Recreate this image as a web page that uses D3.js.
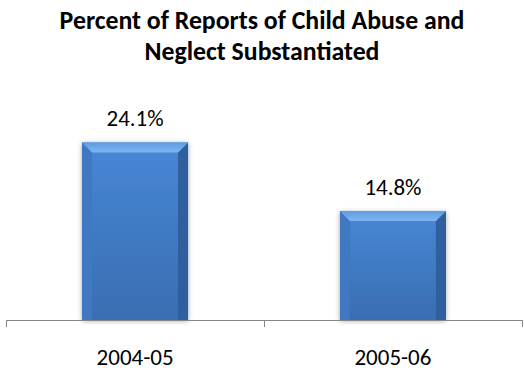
<!DOCTYPE html>
<html>
<head>
<meta charset="utf-8">
<script src="https://cdn.jsdelivr.net/npm/d3@7"></script>
<style>
  html, body { margin: 0; padding: 0; background: #fff; }
  svg { display: block; font-family: Carlito, Calibri, Lato, sans-serif; }
</style>
</head>
<body>
<div id="chart"></div>
<script>
// data
var categories = ["2004-05", "2005-06"];
var values = [24.1, 14.8];
var valueLabels = ["24.1%", "14.8%"];
var titleLines = ["Percent of Reports of Child Abuse and", "Neglect Substantiated"];

var W = 524, H = 371;
var axisY = 320;

var svg = d3.select("#chart").append("svg")
    .attr("width", W)
    .attr("height", H);

// pick a font size so a text selection's first item is about `target` px wide
function fitSize(sel, target) {
    sel.style("font-size", "20px");
    var len = sel.node().getComputedTextLength();
    var size = len > 0 ? 20 * target / len : 20;
    sel.style("font-size", size.toFixed(2) + "px");
}

var defs = svg.append("defs");

// body gradient (vertical)
var body = defs.append("linearGradient").attr("id", "barBody")
    .attr("x1", 0).attr("y1", 0).attr("x2", 0).attr("y2", 1);
body.append("stop").attr("offset", "0%").attr("stop-color", "#4787d6");
body.append("stop").attr("offset", "100%").attr("stop-color", "#3a6db2");

var topBevel = defs.append("linearGradient").attr("id", "barTop")
    .attr("x1", 0).attr("y1", 0).attr("x2", 0).attr("y2", 1);
topBevel.append("stop").attr("offset", "0%").attr("stop-color", "#5e9be3");
topBevel.append("stop").attr("offset", "100%").attr("stop-color", "#7fb6ee");

var shadow = defs.append("filter").attr("id", "shadow")
    .attr("x", "-20%").attr("y", "-20%").attr("width", "140%").attr("height", "140%");
shadow.append("feGaussianBlur").attr("in", "SourceAlpha").attr("stdDeviation", 2.5);
shadow.append("feOffset").attr("dx", 0).attr("dy", 1).attr("result", "b");
shadow.append("feComponentTransfer").append("feFuncA").attr("type", "linear").attr("slope", 0.35);
var merge = shadow.append("feMerge");
merge.append("feMergeNode");
merge.append("feMergeNode").attr("in", "SourceGraphic");

var x = d3.scaleBand()
    .domain(categories)
    .range([6, 522])
    .paddingInner(0.589)
    .paddingOuter(0.295);

var y = d3.scaleLinear()
    .domain([0, 30])
    .range([axisY, 99]);

// title
var title = svg.append("g").selectAll("text")
    .data(titleLines)
    .enter().append("text")
    .attr("x", 262)
    .attr("y", function (d, i) { return 29 + i * 31; })
    .attr("text-anchor", "middle")
    .style("font-weight", "bold")
    .style("fill", "#000")
    .text(function (d) { return d; });
fitSize(title, 405);

// bars with a bevel look
var bevel = 10;
var bars = svg.append("g").selectAll("g.bar")
    .data(values)
    .enter().append("g")
    .attr("class", "bar")
    .attr("filter", "url(#shadow)");

bars.append("rect")
    .attr("x", function (d, i) { return x(categories[i]); })
    .attr("y", function (d) { return y(d); })
    .attr("width", x.bandwidth())
    .attr("height", function (d) { return axisY - y(d); })
    .attr("fill", "url(#barBody)");

// left edge
bars.append("path")
    .attr("d", function (d, i) {
        var x0 = x(categories[i]), y0 = y(d);
        return "M" + x0 + "," + y0 + "L" + (x0 + bevel) + "," + (y0 + bevel) +
            "L" + (x0 + bevel) + "," + axisY + "L" + x0 + "," + axisY + "Z";
    })
    .attr("fill", "#3f78c2");

// right edge
bars.append("path")
    .attr("d", function (d, i) {
        var x1 = x(categories[i]) + x.bandwidth(), y0 = y(d);
        return "M" + x1 + "," + y0 + "L" + (x1 - bevel) + "," + (y0 + bevel) +
            "L" + (x1 - bevel) + "," + axisY + "L" + x1 + "," + axisY + "Z";
    })
    .attr("fill", "#2f5f9e");

// top bevel
bars.append("path")
    .attr("d", function (d, i) {
        var x0 = x(categories[i]), x1 = x0 + x.bandwidth(), y0 = y(d);
        return "M" + x0 + "," + y0 + "L" + x1 + "," + y0 +
            "L" + (x1 - bevel) + "," + (y0 + bevel) + "L" + (x0 + bevel) + "," + (y0 + bevel) + "Z";
    })
    .attr("fill", "url(#barTop)");

// value labels
var valText = svg.append("g").selectAll("text")
    .data(values)
    .enter().append("text")
    .attr("x", function (d, i) { return x(categories[i]) + x.bandwidth() / 2; })
    .attr("y", function (d) { return y(d) - 16; })
    .attr("text-anchor", "middle")
    .style("fill", "#000")
    .text(function (d, i) { return valueLabels[i]; });
fitSize(valText, 57);

// x axis: line plus ticks between categories
var step = x.step();
var tickXs = [x(categories[0]) - x.paddingOuter() * step];
categories.forEach(function (c) { tickXs.push(x(c) + x.bandwidth() + x.paddingOuter() * step); });

var axis = svg.append("g").attr("class", "axis");
axis.append("line")
    .attr("x1", tickXs[0]).attr("x2", tickXs[tickXs.length - 1])
    .attr("y1", axisY + 0.5).attr("y2", axisY + 0.5)
    .attr("stroke", "#868686").attr("stroke-width", 1);
axis.selectAll("line.tick")
    .data(tickXs)
    .enter().append("line")
    .attr("class", "tick")
    .attr("x1", function (d) { return Math.round(d) + 0.5; })
    .attr("x2", function (d) { return Math.round(d) + 0.5; })
    .attr("y1", axisY).attr("y2", axisY + 7)
    .attr("stroke", "#868686").attr("stroke-width", 1);

var catText = axis.selectAll("text")
    .data(categories)
    .enter().append("text")
    .attr("x", function (d) { return x(d) + x.bandwidth() / 2; })
    .attr("y", 365)
    .attr("text-anchor", "middle")
    .style("fill", "#000")
    .text(function (d) { return d; });
fitSize(catText, 77);
</script>
</body>
</html>
